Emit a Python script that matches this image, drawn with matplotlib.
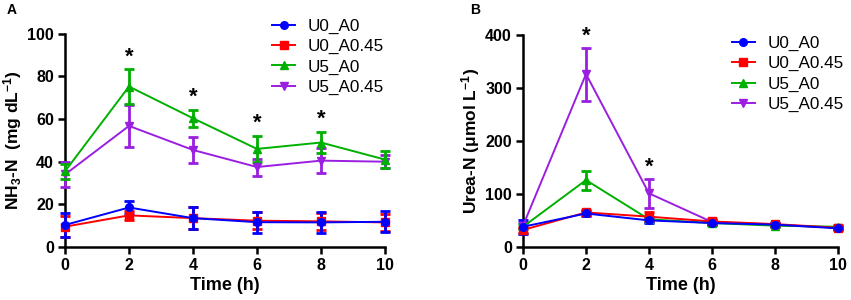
import numpy as np
import matplotlib
matplotlib.use("Agg")
import matplotlib.pyplot as plt

plt.rcParams['font.family'] = ['Liberation Sans', 'DejaVu Sans']
plt.rcParams['mathtext.fontset'] = 'custom'
plt.rcParams['mathtext.rm'] = 'Liberation Sans:bold'
plt.rcParams['mathtext.it'] = 'Liberation Sans:bold'
plt.rcParams['mathtext.bf'] = 'Liberation Sans:bold'
plt.rcParams['mathtext.default'] = 'rm'

# ------------------------------------------------------------------ #
# data
time = [0, 2, 4, 6, 8, 10]
groups = ['U0_A0', 'U0_A0.45', 'U5_A0', 'U5_A0.45']

nh3_mean = {
    'U0_A0':    [10.3, 18.5, 13.5, 11.6, 11.5, 11.8],
    'U0_A0.45': [9.5, 14.8, 13.5, 12.3, 12.0, 11.5],
    'U5_A0':    [35.5, 75.3, 60.4, 46.0, 49.0, 41.0],
    'U5_A0.45': [34.0, 56.8, 45.5, 37.5, 40.5, 40.0],
}
nh3_err = {
    'U0_A0':    [5.5, 3.0, 5.0, 5.0, 5.0, 5.0],
    'U0_A0.45': [5.0, 2.0, 5.0, 4.0, 4.0, 4.0],
    'U5_A0':    [3.5, 8.0, 4.0, 6.0, 5.0, 4.0],
    'U5_A0.45': [6.0, 10.0, 6.0, 4.0, 6.0, 3.0],
}
urea_mean = {
    'U0_A0':    [38, 63, 50, 45, 42, 35],
    'U0_A0.45': [32, 65, 57, 48, 43, 36],
    'U5_A0':    [38, 126, 52, 45, 40, 38],
    'U5_A0.45': [40, 326, 101, 47, 42, 36],
}
urea_err = {
    'U0_A0':    [13, 5, 5, 4, 3, 3],
    'U0_A0.45': [5, 4, 8, 4, 3, 3],
    'U5_A0':    [5, 18, 5, 3, 3, 4],
    'U5_A0.45': [5, 50, 27, 3, 3, 3],
}
nh3_star_t = [2, 4, 6, 8]
urea_star_t = [2, 4]

colors = {'U0_A0': '#0000ff', 'U0_A0.45': '#ff0000',
          'U5_A0': '#00b000', 'U5_A0.45': '#9b1fe0'}
markers = {'U0_A0': 'o', 'U0_A0.45': 's', 'U5_A0': '^', 'U5_A0.45': 'v'}
draw_order = ['U5_A0.45', 'U5_A0', 'U0_A0.45', 'U0_A0']


def draw_panel(ax, means, errs, stars, ymax, ystep, ylabel, star_pad):
    handles = {}
    for g in draw_order:
        h = ax.errorbar(time, means[g], yerr=errs[g], color=colors[g],
                        marker=markers[g], markersize=5.5, lw=1.4,
                        elinewidth=2.0, capsize=3.5, capthick=2.0,
                        clip_on=False, zorder=3)
        for art in h.lines[1] + h.lines[2]:
            art.set_clip_on(False)
        handles[g] = h.lines[0]
    for t in stars:
        i = time.index(t)
        top = max(means[g][i] + errs[g][i] for g in groups)
        ax.text(t, top + star_pad, '*', ha='center', va='bottom',
                fontsize=16, fontweight='bold')
    ax.set_xlim(0, 10)
    ax.set_ylim(0, ymax)
    ax.set_xticks(time)
    ax.set_yticks(np.arange(0, ymax + 1, ystep))
    for s in ['top', 'right']:
        ax.spines[s].set_visible(False)
    for s in ['left', 'bottom']:
        ax.spines[s].set_linewidth(1.8)
    ax.tick_params(width=1.8, length=5, labelsize=11.5, pad=3)
    for lab in ax.get_xticklabels() + ax.get_yticklabels():
        lab.set_fontweight('bold')
    ax.set_xlabel('Time (h)', fontsize=13, fontweight='bold', labelpad=3)
    ax.set_ylabel(ylabel, fontsize=12.5, fontweight='bold', labelpad=2)
    return handles


fig = plt.figure(figsize=(8.51, 3.00), dpi=100)
axA = fig.add_axes([0.0764, 0.177, 0.376, 0.710])
axB = fig.add_axes([0.6146, 0.177, 0.370, 0.707])

hA = draw_panel(axA, nh3_mean, nh3_err, nh3_star_t, 100, 20,
                'NH$_3$-N  (mg dL$^{-1}$)', 1.0)
hB = draw_panel(axB, urea_mean, urea_err, urea_star_t, 400, 100,
                'Urea-N (\u03bcmol L$^{-1}$)', 2.0)

leg_kw = dict(frameon=False, fontsize=12.3, handlelength=1.35,
              handletextpad=0.75, labelspacing=0.3, borderaxespad=0,
              borderpad=0)
fig.legend([hA[g] for g in groups], groups, loc='upper left',
           bbox_to_anchor=(0.3196, 0.937), **leg_kw)
fig.legend([hB[g] for g in groups], groups, loc='upper left',
           bbox_to_anchor=(0.860, 0.880), **leg_kw)

fig.text(0.008, 0.99, 'A', fontsize=10, fontweight='bold', va='top')
fig.text(0.553, 0.99, 'B', fontsize=10, fontweight='bold', va='top')

fig.savefig('out.png', dpi=100)
